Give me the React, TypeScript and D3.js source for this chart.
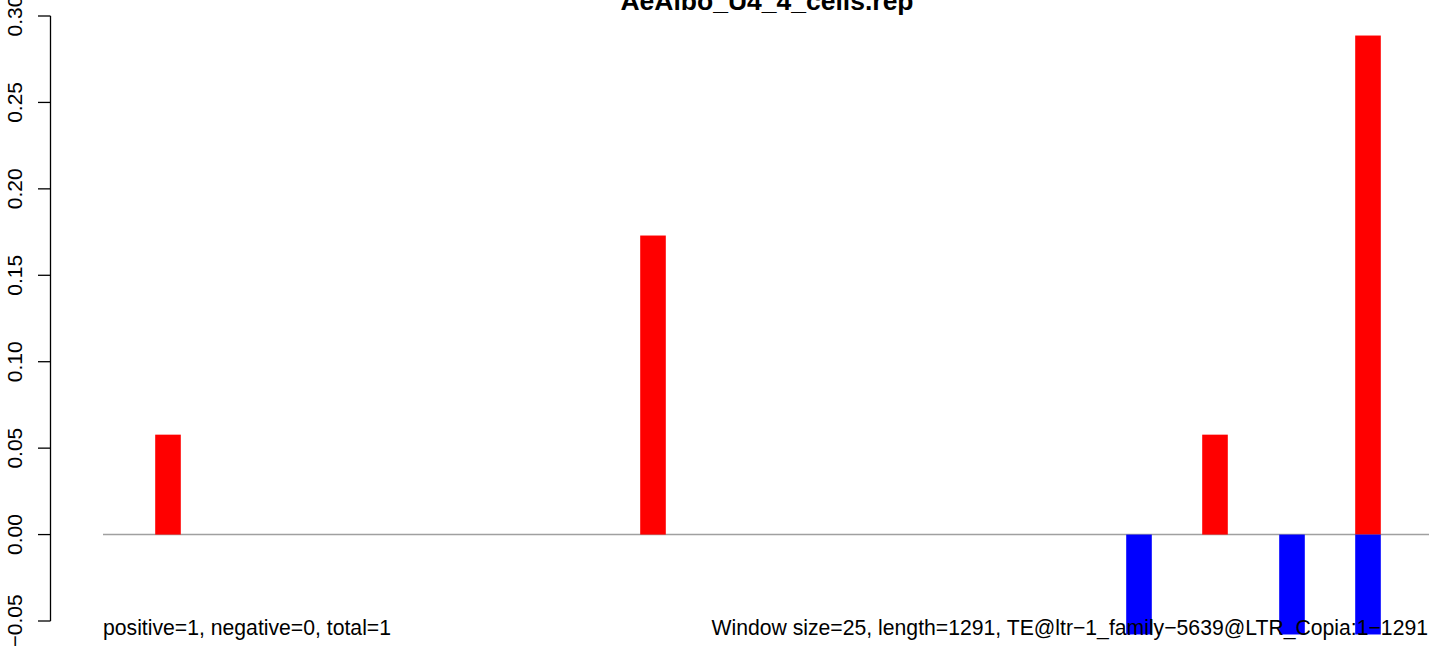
import React, { useEffect, useRef } from 'react';
import * as d3 from 'd3';

// window positions (bp) and signal per strand
const positions = [65, 550, 1036, 1112, 1189, 1265];
const positiveValues = [0.0578, 0.173, 0, 0.0578, 0, 0.2887];
const negativeValues = [0, 0, -0.0578, 0, -0.0578, -0.0578];
const yTicks = [-0.05, 0.0, 0.05, 0.1, 0.15, 0.2, 0.25, 0.3];

const title = 'AeAlbo_U4_4_cells.rep';
const leftNote = 'positive=1, negative=0, total=1';
const rightNote = 'Window size=25, length=1291, TE@ltr\u22121_family\u22125639@LTR_Copia:1\u22121291';

const App: React.FC = () => {
  const ref = useRef<SVGSVGElement | null>(null);

  useEffect(() => {
    const width = 1429;
    const height = 646;
    const font = '"Liberation Sans", Arial, Helvetica, sans-serif';

    const svg = d3.select(ref.current)
      .attr('width', width)
      .attr('height', height);
    svg.selectAll('*').remove();

    const x = d3.scaleLinear().domain([0, 1291]).range([103, 103 + 1291]);
    const barW = 25.6;
    const y = d3.scaleLinear().domain([-0.05, 0.3]).range([621, 16]);

    // zero line
    svg.append('line')
      .attr('x1', x(0))
      .attr('x2', width)
      .attr('y1', y(0))
      .attr('y2', y(0))
      .attr('stroke', '#a0a0a0')
      .attr('stroke-width', 1.5);

    // positive bars
    svg.append('g')
      .selectAll('rect')
      .data(positions.map((p, i) => ({ p, v: positiveValues[i] })).filter(d => d.v !== 0))
      .enter()
      .append('rect')
      .attr('x', (d: any) => x(d.p) - barW / 2)
      .attr('width', barW)
      .attr('y', (d: any) => y(d.v))
      .attr('height', (d: any) => y(0) - y(d.v))
      .attr('fill', '#ff0000');

    // negative bars
    svg.append('g')
      .selectAll('rect')
      .data(positions.map((p, i) => ({ p, v: negativeValues[i] })).filter(d => d.v !== 0))
      .enter()
      .append('rect')
      .attr('x', (d: any) => x(d.p) - barW / 2)
      .attr('width', barW)
      .attr('y', y(0))
      .attr('height', (d: any) => y(d.v) - y(0))
      .attr('fill', '#0000ff');

    // y axis
    const axisX = 50.5;
    const ax = svg.append('g');
    ax.append('line')
      .attr('x1', axisX).attr('x2', axisX)
      .attr('y1', y(yTicks[0])).attr('y2', y(yTicks[yTicks.length - 1]))
      .attr('stroke', 'black').attr('stroke-width', 1.3);
    ax.selectAll('.tick')
      .data(yTicks)
      .enter()
      .append('line')
      .attr('x1', axisX - 12.5).attr('x2', axisX)
      .attr('y1', (d: any) => y(d)).attr('y2', (d: any) => y(d))
      .attr('stroke', 'black').attr('stroke-width', 1.3);
    ax.selectAll('.lbl')
      .data(yTicks)
      .enter()
      .append('text')
      .attr('transform', (d: any) => `translate(22,${y(d)}) rotate(-90)`)
      .attr('text-anchor', 'middle')
      .attr('font-family', font)
      .attr('font-size', 21)
      .attr('fill', 'black')
      .text((d: any) => d3.format('.2f')(d).replace('-', '\u2212'));

    // title
    svg.append('text')
      .attr('x', 767)
      .attr('y', 10)
      .attr('text-anchor', 'middle')
      .attr('font-family', font)
      .attr('font-weight', 'bold')
      .attr('font-size', 26.5)
      .text(title);

    // notes
    svg.append('text')
      .attr('x', 103)
      .attr('y', 635)
      .attr('font-family', font)
      .attr('font-size', 21.2)
      .text(leftNote);
    svg.append('text')
      .attr('x', 1428)
      .attr('y', 635)
      .attr('text-anchor', 'end')
      .attr('font-family', font)
      .attr('font-size', 21.2)
      .text(rightNote);
  }, []);

  return <svg ref={ref} style={{ position: 'absolute', left: 0, top: 0, background: 'white' }}></svg>;
};

export default App;
